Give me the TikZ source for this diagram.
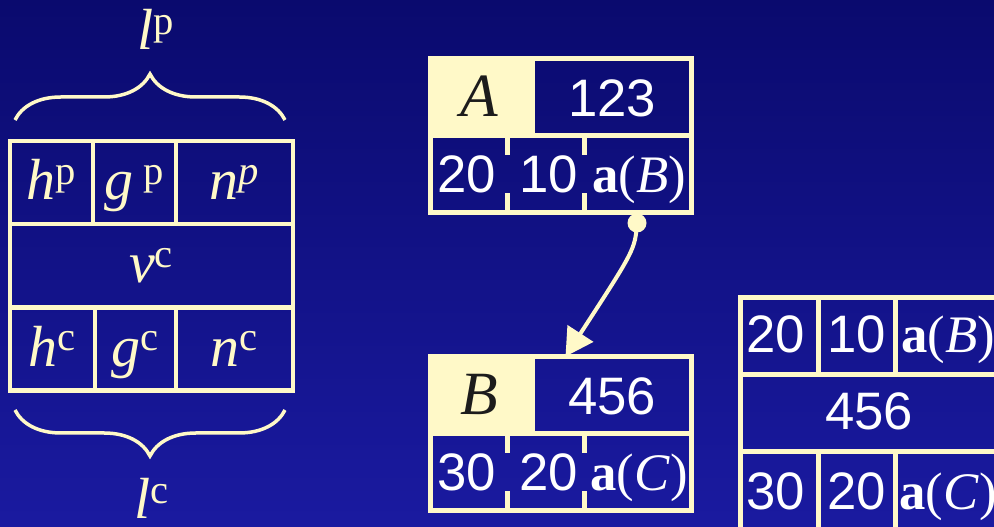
\documentclass[tikz,border=0pt]{standalone}
\usepackage{fontspec}
\setmainfont{Liberation Serif}
\setsansfont{Liberation Sans}
\usetikzlibrary{arrows.meta,decorations.pathreplacing}
\definecolor{bgtop}{HTML}{0A0A6E}
\definecolor{bgbot}{HTML}{1A1AA0}
\definecolor{cream}{HTML}{FFF9C8}
\definecolor{ink}{HTML}{1C1C1C}

\begin{document}
\begin{tikzpicture}[x=1cm,y=1cm,line width=.09cm,every node/.style={inner sep=0pt,outer sep=0pt},cell/.style={draw=cream,minimum height=1.66cm,text height=.85cm,text depth=.15cm,text=cream,font=\fontsize{33}{33}\selectfont},num/.style={anchor=base,text=white,font=\sffamily\fontsize{30}{30}\selectfont},sym/.style={anchor=base,text=white,font=\fontsize{30}{30}\selectfont},rec/.style={draw=cream,line width=.1cm,minimum width=5.22cm,minimum height=3.08cm},tag/.style={fill=cream,minimum width=2.14cm,minimum height=1.64cm},tagtext/.style={anchor=base,text=ink,font=\itshape\fontsize{35}{35}\selectfont},rule/.style={cream,line width=.1cm},curly/.style={cream,line width=.07cm,decorate,decoration={brace,amplitude=.92cm}},ptr/.style={cream,line width=.08cm,-{Triangle[length=.55cm,width=.6cm]}}]
\path[use as bounding box] (0,0) rectangle (19.88,10.54);
\shade[top color=bgtop,bottom color=bgbot] (0,0) rectangle (19.88,10.54);
\clip (0,0) rectangle (19.88,10.54);

\node[cell,minimum width=1.66cm] (hp) at (1.03,6.89) {\textit{h}\textsuperscript{p}};
\node[cell,minimum width=1.66cm] (gp) at (2.69,6.89) {\textit{g}\,\textsuperscript{p}};
\node[cell,minimum width=2.34cm] (np) at (4.69,6.89) {\textit{n}\textsuperscript{\textit{p}}};
\node[cell,minimum width=5.66cm] (vc) at (3.03,5.23) {\textit{v}\textsuperscript{c}};
\node[cell,minimum width=1.70cm] (hc) at (1.05,3.56) {\textit{h}\textsuperscript{c}};
\node[cell,minimum width=1.62cm] (gc) at (2.71,3.56) {\textit{g}\textsuperscript{c}};
\node[cell,minimum width=2.34cm] (nc) at (4.69,3.56) {\textit{n}\textsuperscript{c}};
\draw[curly] (.3,8.14)--(5.7,8.14);
\draw[curly] (5.7,2.34)--(.3,2.34);
\node[cell,draw=none,anchor=base,text height=,text depth=,minimum height=0pt] (lp) at (3.12,9.54) {\textit{l}\textsuperscript{p}};
\node[cell,draw=none,anchor=base,text height=,text depth=,minimum height=0pt] (lc) at (3.04,.16) {\textit{l}\textsuperscript{c}};

\node[rec] (a) at (11.22,7.83) {};
\node[tag] (atag) at (9.63,8.60) {};
\draw[rule] (a.west)--(a.east);
\foreach \x in {10.15,11.69} {\draw[rule] (\x,7.78)--+(0,-.34) (\x,6.34)--+(0,.34);}
\node[tagtext] (aname) at (9.58,8.20) {A};
\node[num] (aval) at (12.24,8.20) {123};
\node[num] (a1) at (9.34,6.69) {20};
\node[num] (a2) at (10.98,6.69) {10};
\node[sym] (a3) at (12.78,6.69) {\textbf{a}(\textit{B})};
\node[circle,fill=cream,minimum size=.38cm] (adot) at (12.74,6.08) {};

\node[rec] (b) at (11.22,1.87) {};
\node[tag] (btag) at (9.63,2.64) {};
\draw[rule] (b.west)--(b.east);
\foreach \x in {10.15,11.69} {\draw[rule] (\x,1.82)--+(0,-.34) (\x,.38)--+(0,.34);}
\node[tagtext] (bname) at (9.58,2.24) {B};
\node[num] (bval) at (12.24,2.24) {456};
\node[num] (b1) at (9.34,.73) {30};
\node[num] (b2) at (10.98,.73) {20};
\node[sym] (b3) at (12.78,.73) {\textbf{a}(\textit{C})};

\draw[ptr] (adot.center) .. controls (12.70,5.55) .. ([xshift=2.7cm]b.north west);

\draw[rule] (20.2,4.595) -| (14.81,-.5);
\draw[rule] (14.81,3.05)--(20.2,3.05) (14.81,1.5)--(20.2,1.5);
\foreach \x in {16.37,17.91} {\draw[rule] (\x,4.595)--(\x,3.05) (\x,1.5)--(\x,-.5);}
\node[num] (c1) at (15.52,3.48) {20};
\node[num] (c2) at (17.14,3.48) {10};
\node[sym] (c3) at (18.96,3.48) {\textbf{a}(\textit{B})};
\node[num] (cval) at (17.38,1.94) {456};
\node[num] (c4) at (15.52,.34) {30};
\node[num] (c5) at (17.14,.34) {20};
\node[sym] (c6) at (18.96,.34) {\textbf{a}(\textit{C})};

\end{tikzpicture}
\end{document}
